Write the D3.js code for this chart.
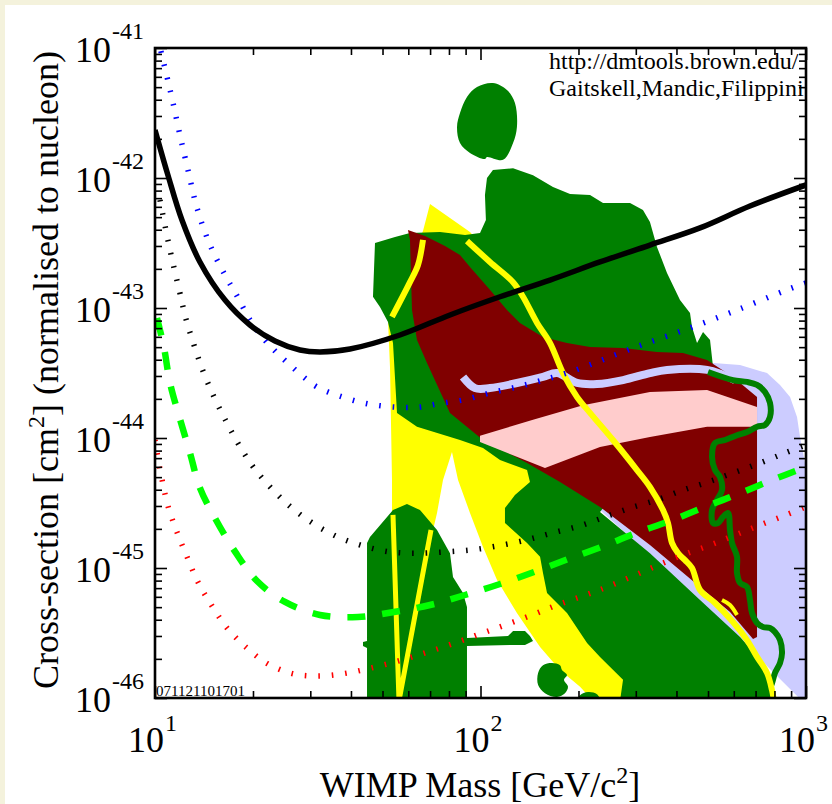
<!DOCTYPE html>
<html>
<head>
<meta charset="utf-8">
<script src="https://cdn.jsdelivr.net/npm/d3@7"></script>
<style>
  html, body { margin: 0; padding: 0; background: #f4f2dc; }
  svg { display: block; }
</style>
</head>
<body>
<svg id="chart" width="832" height="804"></svg>
<script>
// WIMP-nucleon cross-section limits and model regions, [mass GeV/c^2, sigma cm^2]

const cdmsLimit = [[10, 2.34e-42], [10.96, 1.05e-42], [12.1, 4.75e-43], [13.74, 2.26e-43], [16.41, 1.15e-43],
  [19.58, 7.40e-44], [23.37, 5.57e-44], [27.89, 4.75e-44], [32.13, 4.59e-44], [39.73, 4.84e-44],
  [56.57, 6.20e-44], [80.59, 8.84e-44], [114.8, 1.22e-43], [163.5, 1.64e-43], [232.9, 2.26e-43],
  [331.6, 3.05e-43], [472.5, 4.13e-43], [672.9, 6.09e-43], [1000, 8.84e-43]];

const blueProjection = [[10.2, 1.19e-41], [10.89, 5.98e-42], [11.36, 3.78e-42], [11.93, 2.14e-42], [12.63, 1.15e-42],
  [13.46, 5.88e-43], [14.76, 3.05e-43], [16.41, 1.79e-43], [17.86, 1.24e-43], [19.58, 8.09e-44],
  [21.47, 5.88e-44], [23.37, 4.67e-44], [25.98, 3.64e-44], [28.89, 2.89e-44], [31.46, 2.47e-44],
  [37.54, 2.07e-44], [45.12, 1.83e-44], [54.62, 1.73e-44], [65.18, 1.73e-44], [73.52, 1.83e-44],
  [88.37, 1.96e-44], [106.9, 2.22e-44], [129.4, 2.47e-44], [155.6, 2.79e-44], [188.4, 3.22e-44],
  [228.0, 3.84e-44], [268.3, 4.51e-44], [324.7, 5.38e-44], [431.0, 6.89e-44], [613.8, 9.65e-44],
  [874.6, 1.38e-43], [1000, 1.56e-43]];

const blackProjection = [[10.36, 6.77e-43], [11.12, 2.79e-43], [11.93, 1.30e-43], [12.45, 8.23e-44], [13.18, 5.19e-44],
  [14.04, 3.28e-44], [15.18, 2.07e-44], [16.52, 1.35e-44], [18.11, 8.84e-45], [20.14, 5.88e-45],
  [22.88, 4.05e-45], [26.36, 2.89e-45], [30.8, 2.18e-45], [36.49, 1.73e-45], [43.55, 1.48e-45],
  [52.72, 1.33e-45], [63.81, 1.30e-45], [77.8, 1.33e-45], [94.18, 1.38e-45], [113.2, 1.48e-45],
  [138.0, 1.64e-45], [165.9, 1.86e-45], [200.7, 2.10e-45], [241.3, 2.47e-45], [288.0, 2.89e-45],
  [348.5, 3.34e-45], [418.9, 3.98e-45], [500.1, 4.59e-45], [596.7, 5.38e-45], [722.3, 6.42e-45],
  [862.2, 7.67e-45], [1000, 8.84e-45]];

const redProjection = [[10, 9.65e-45], [10.14, 7.80e-45], [10.5, 4.84e-45], [10.96, 3.00e-45], [11.68, 1.89e-45],
  [12.54, 1.22e-45], [13.55, 7.80e-46], [14.97, 5.10e-46], [16.64, 3.46e-46], [19.17, 2.42e-46],
  [22.24, 1.83e-46], [26.73, 1.53e-46], [32.59, 1.48e-46], [39.17, 1.56e-46], [47.41, 1.73e-46],
  [57.38, 1.96e-46], [68.99, 2.26e-46], [83.5, 2.65e-46], [99.65, 3.11e-46], [118.9, 3.64e-46],
  [143.9, 4.35e-46], [171.8, 5.19e-46], [206.5, 6.09e-46], [244.7, 7.14e-46], [294.2, 8.68e-46],
  [351, 1.05e-45], [418.9, 1.26e-45], [507.2, 1.50e-45], [605.2, 1.79e-45], [722.3, 2.14e-45],
  [868.4, 2.56e-45], [1000, 2.95e-45]];

const limeProjection = [[10.14, 8.38e-44], [10.65, 5.01e-44], [11.12, 2.65e-44], [11.93, 1.40e-44], [12.81, 7.67e-45],
  [13.74, 4.13e-45], [15.4, 2.34e-45], [17.64, 1.33e-45], [20.58, 7.94e-46], [25.08, 5.48e-46],
  [32.13, 4.35e-46], [42.05, 4.20e-46], [54.23, 4.59e-46], [69.97, 5.19e-46], [89.64, 6.20e-46],
  [114.8, 7.53e-46], [146, 9.32e-46], [185.7, 1.17e-45], [243, 1.50e-45], [300.5, 1.86e-45],
  [382.1, 2.30e-45], [489.6, 2.95e-45], [618.2, 3.71e-45], [786.2, 4.75e-45], [1000, 5.98e-45]];

const lavenderRegion = [[202.2, 3.98e-45], [232.9, 9.65e-45], [309, 4.13e-44], [472.5, 3.84e-44], [627.0, 3.64e-44],
  [759.0, 3.16e-44], [832.1, 2.56e-44], [893.3, 2.07e-44], [938.5, 1.45e-44], [958.5, 1.02e-44],
  [993.0, 6.42e-45], [1050, 5.67e-45], [1050, 9.5e-47], [972.2, 9.5e-47], [803.1, 1.53e-46],
  [627.0, 2.84e-46], [472.5, 5.48e-46], [331.6, 1.26e-45], [232.9, 2.79e-45]];

const yellowRegion = [[69.97, 6.31e-43], [92.84, 3.84e-43], [132.2, 1.38e-43], [175.5, 3.98e-44], [232.9, 1.15e-44],
  [217.0, 3.98e-45], [288.0, 5.67e-46], [309, 9.5e-47], [221.7, 9.5e-47], [202.2, 1.22e-46],
  [175.5, 1.64e-46], [152.4, 2.47e-46], [129.4, 4.51e-46], [112.4, 8.09e-46], [101.8, 1.45e-45],
  [92.84, 2.65e-45], [85.31, 4.75e-45], [81.73, 7.80e-45], [76.7, 4.75e-45], [73.52, 2.65e-45],
  [71.47, 1.96e-45], [65.18, 5.67e-46], [53.47, 5.67e-46], [53.47, 4.75e-45], [52.72, 3.52e-44],
  [51.98, 8.09e-44], [56.57, 1.64e-43], [66.58, 3.91e-43]];

const greenRegion = [[47.41, 3.16e-43], [54.62, 3.52e-43], [60.72, 3.78e-43], [75.09, 3.84e-43], [89.64, 3.64e-43],
  [99.65, 3.78e-43], [103.9, 4.75e-43], [103.2, 7.40e-43], [104.7, 1.0e-42], [109.2, 1.15e-42],
  [125.9, 1.19e-42], [145.0, 1.05e-42], [167.0, 8.53e-43], [188.4, 7.53e-43], [217.0, 7.40e-43],
  [237.9, 6.42e-43], [288.0, 6.42e-43], [315.6, 5.67e-43], [331.6, 4.59e-43], [348.5, 2.95e-43],
  [374.1, 1.86e-43], [410.1, 1.15e-43], [440.2, 9.15e-44], [446.5, 7.14e-44], [462.6, 5.38e-44],
  [482.7, 6.54e-44], [507.2, 5.67e-44], [518.1, 3.52e-44], [331.6, 8.09e-45], [232.9, 2.70e-45],
  [331.6, 1.30e-45], [472.5, 5.67e-46], [627.0, 2.95e-46], [748.2, 1.79e-46], [808.8, 9.5e-47],
  [268.3, 9.5e-47], [274.1, 1.38e-46], [232.9, 2.07e-46], [212.5, 2.65e-46], [184.4, 4.51e-46],
  [160.1, 6.42e-46], [155.6, 9.15e-46], [152.4, 1.22e-45], [139.0, 1.56e-45], [118.9, 2.22e-45],
  [118.9, 2.89e-45], [127.6, 3.64e-45], [141.9, 4.59e-45], [139.0, 5.67e-45], [114.8, 6.77e-45],
  [101.8, 8.38e-45], [86.5, 9.65e-45], [63.81, 1.22e-44], [55.4, 1.56e-44], [53.85, 5.38e-44],
  [51.98, 7.80e-44], [49.11, 1.02e-43], [46.74, 1.22e-43]];

const greenIsland = [[109.2, 5.38e-42], [120.6, 4.75e-42], [127.6, 3.78e-42], [129.4, 2.47e-42], [125.9, 1.86e-42],
  [117.3, 1.38e-42], [104.7, 1.45e-42], [103.2, 1.40e-42], [92.84, 1.56e-42], [86.5, 1.86e-42],
  [84.7, 2.47e-42], [86.5, 3.16e-42], [90.88, 4.20e-42], [97.55, 5.01e-42]];

const greenLowMass = [[59.44, 3.11e-45], [65.18, 2.79e-45], [73.52, 1.96e-45], [80.59, 1.30e-45], [82.32, 8.53e-46],
  [88.37, 6.42e-46], [90.88, 5.01e-46], [90.88, 2.89e-46], [121.5, 3.00e-46], [125.9, 3.28e-46],
  [137.0, 3.28e-46], [141.9, 3.00e-46], [145.0, 2.74e-46], [137.0, 2.56e-46], [123.2, 2.56e-46],
  [90.88, 2.51e-46], [90.88, 9.5e-47], [44.81, 9.5e-47], [44.81, 2.42e-46], [43.55, 2.51e-46],
  [43.55, 2.70e-46], [44.81, 2.74e-46], [44.81, 1.56e-45], [45.76, 1.73e-45], [53.85, 2.79e-45]];

const greenSpot = [[150.3, 1.56e-46], [155.6, 1.79e-46], [165.9, 1.86e-46], [175.5, 1.79e-46], [178, 1.64e-46],
  [184.4, 1.50e-46], [180.5, 1.38e-46], [185.7, 1.22e-46], [181.8, 1.09e-46], [171.8, 1.02e-46],
  [157.8, 1.09e-46], [150.3, 1.26e-46]];

const greenEdgeSpot = [[197.9, 9.5e-47], [202.2, 1.05e-46], [214, 1.11e-46], [228.0, 1.07e-46], [232.9, 9.5e-47]];

const maroonRegion = [[59.86, 3.98e-43], [67.54, 3.58e-43], [77.8, 3.00e-43], [86.5, 2.56e-43], [92.84, 2.07e-43],
  [106.9, 1.38e-43], [120.6, 9.65e-44], [132.2, 7.67e-44], [155.6, 5.98e-44], [184.4, 5.38e-44],
  [217.0, 5.01e-44], [274.1, 4.92e-44], [348.5, 4.59e-44], [418.9, 4.51e-44], [496.6, 3.98e-44],
  [596.7, 2.95e-44], [707.2, 2.07e-44], [707.2, 2.95e-46], [687.5, 2.84e-46], [584.2, 4.59e-46],
  [472.5, 7.14e-46], [331.6, 1.50e-45], [232.9, 2.95e-45], [175.5, 4.59e-45], [139.0, 6.42e-45],
  [101.8, 9.65e-45], [80.59, 1.56e-44], [68.49, 3.78e-44], [63.81, 5.67e-44], [61.59, 9.65e-44],
  [60.72, 3.34e-43]];

const pinkBand = [[99.65, 1.04e-44], [145.0, 1.38e-44], [206.5, 1.79e-44], [331.6, 2.26e-44], [496.6, 2.34e-44],
  [707.2, 1.73e-44], [707.2, 1.22e-44], [496.6, 1.22e-44], [331.6, 1.02e-44], [232.9, 8.53e-45],
  [157.8, 5.88e-45], [114.8, 8.09e-45], [99.65, 9.32e-45]];

const lavenderCurve = [[88.37, 2.95e-44], [96.2, 2.42e-44], [106.9, 2.42e-44], [129.4, 2.65e-44], [155.6, 2.95e-44],
  [171.8, 3.16e-44], [197.9, 2.65e-44], [228.0, 2.60e-44], [274.1, 2.79e-44], [331.6, 3.16e-44],
  [374.1, 3.34e-44], [496.6, 3.34e-44], [605.2, 2.79e-44]];

const greenContour = [[500.1, 3.22e-44], [596.7, 2.79e-44], [658.9, 2.70e-44], [707.2, 2.56e-44], [748.2, 2.26e-44],
  [775.1, 1.86e-44], [775.1, 1.45e-44], [748.2, 1.26e-44], [707.2, 1.22e-44], [658.9, 1.11e-44],
  [613.8, 1.05e-44], [564.0, 9.65e-45], [525.4, 9.15e-45], [514.4, 7.14e-45], [525.4, 5.67e-45],
  [544.3, 5.01e-45], [552.0, 3.98e-45], [532.9, 3.34e-45], [514.4, 2.79e-45], [518.1, 2.22e-45],
  [536.6, 2.22e-45], [555.9, 2.47e-45], [576.0, 2.65e-45], [584.2, 1.96e-45], [592.5, 1.56e-45],
  [613.8, 1.22e-45], [613.8, 9.15e-46], [627.0, 7.67e-46], [658.9, 7.14e-46], [672.9, 5.67e-46],
  [682.5, 4.51e-46], [707.2, 3.78e-46], [737.9, 3.52e-46], [775.1, 3.46e-46], [803.1, 3.22e-46],
  [832.1, 2.79e-46], [844.0, 2.22e-46], [832.1, 1.86e-46], [803.1, 1.56e-46], [786.2, 1.30e-46],
  [764.2, 1.09e-46], [759.0, 9.5e-47]];

const yellowCurveA = [[66.58, 3.34e-43], [64.27, 2.14e-43], [60.72, 1.58e-43], [53.47, 8.53e-44]];

const yellowCurveB = [[90.88, 3.28e-43], [106.9, 2.26e-43], [125.9, 1.58e-43], [135.1, 1.22e-43], [149.2, 7.67e-44],
  [163.5, 5.38e-44], [179.2, 3.16e-44], [197.9, 2.07e-44], [217.0, 1.56e-44], [255.3, 9.65e-45],
  [302.6, 5.67e-45], [331.6, 4.20e-45], [363.7, 2.79e-45], [376.7, 2.22e-45], [387.5, 1.56e-45],
  [404.4, 1.30e-45], [424.9, 1.15e-45], [446.5, 1.00e-45], [472.5, 6.77e-46], [525.4, 5.38e-46],
  [596.7, 3.84e-46], [658.9, 2.79e-46], [707.2, 2.07e-46], [759.0, 1.56e-46], [786.2, 1.15e-46],
  [797.5, 9.5e-47]];

const yellowCurveV = [[53.85, 2.56e-45], [56.18, 9.5e-47], [70.46, 1.96e-45]];

const yellowCurveD = [[552.0, 5.67e-46], [584.2, 5.19e-46], [613.8, 4.35e-46]];

// axis decades and their exponent labels
const massDecades = [10, 100, 1000];
const massExponents = ["1", "2", "3"];
const sigmaDecades = [1e-41, 1e-42, 1e-43, 1e-44, 1e-45, 1e-46];
const sigmaExponents = ["-41", "-42", "-43", "-44", "-45", "-46"];

const serif = "'Liberation Serif', 'Times New Roman', Times, serif";

const svg = d3.select("#chart");
const plot = { left: 155, top: 48, right: 806, bottom: 698 };

const x = d3.scaleLog().domain([10, 1000]).range([plot.left, plot.right]);
const y = d3.scaleLog().domain([1e-46, 1e-41]).range([plot.bottom, plot.top]);

// white panel
svg.append("rect").attr("x", 5).attr("y", 5).attr("width", 827).attr("height", 799).attr("fill", "#ffffff");

const defs = svg.append("defs");
defs.append("clipPath").attr("id", "plotClip").append("rect")
  .attr("x", plot.left).attr("y", plot.top)
  .attr("width", plot.right - plot.left).attr("height", plot.bottom - plot.top);

const layer = svg.append("g").attr("clip-path", "url(#plotClip)");

const polyGen = d3.line().x(d => x(d[0])).y(d => y(d[1])).curve(d3.curveLinearClosed);
const blobGen = d3.line().x(d => x(d[0])).y(d => y(d[1])).curve(d3.curveCatmullRomClosed.alpha(0.5));
const curveGen = d3.line().x(d => x(d[0])).y(d => y(d[1])).curve(d3.curveCatmullRom.alpha(0.5));
const straightGen = d3.line().x(d => x(d[0])).y(d => y(d[1]));

function area(data, gen, fill) {
  layer.append("path").attr("d", gen(data)).attr("fill", fill).attr("stroke", "none");
}
function stroke(data, gen, color, width, dash) {
  const p = layer.append("path").attr("d", gen(data)).attr("fill", "none")
    .attr("stroke", color).attr("stroke-width", width).attr("stroke-linejoin", "round");
  if (dash) p.attr("stroke-dasharray", dash);
  return p;
}

// filled regions, back to front
area(lavenderRegion, polyGen, "#ccccff");
area(yellowRegion, polyGen, "#ffff00");
area(greenRegion, polyGen, "#008000");
area(greenIsland, blobGen, "#008000");
area(greenLowMass, polyGen, "#008000");
area(greenSpot, blobGen, "#008000");
area(greenEdgeSpot, blobGen, "#008000");
area(maroonRegion, polyGen, "#800000");
area(pinkBand, polyGen, "#ffcccc");

// contour lines
stroke(lavenderCurve, curveGen, "#ccccff", 8);
stroke(greenContour, curveGen, "#008000", 6);
stroke(yellowCurveA, curveGen, "#ffff00", 6);
stroke(yellowCurveB, curveGen, "#ffff00", 6);
stroke(yellowCurveV, straightGen, "#ffff00", 5);
stroke(yellowCurveD, curveGen, "#ffff00", 4);

// projected sensitivities: short marks across the curve
stroke(blueProjection, curveGen, "#0000ff", 5.5, "1.6,11.9");
stroke(blackProjection, curveGen, "#000000", 5.5, "1.6,11.9");
stroke(redProjection, curveGen, "#ff0000", 5.5, "1.6,11.9");
stroke(limeProjection, curveGen, "#00ff00", 6.5, "18,17");

// current limit
stroke(cdmsLimit, curveGen, "#000000", 5.5);

// credit text inside the frame
const credit = svg.append("g").attr("clip-path", "url(#plotClip)")
  .attr("font-family", serif).attr("font-size", 24).attr("fill", "#000");
credit.append("text").attr("x", 549).attr("y", 69).text("http://dmtools.brown.edu/");
credit.append("text").attr("x", 549).attr("y", 96).text("Gaitskell,Mandic,Filippini");

svg.append("text").attr("x", 156).attr("y", 696)
  .attr("font-family", serif).attr("font-size", 15).text("071121101701");

// axes: ticks point into the frame
const isDecade = v => Math.abs(Math.log10(v) - Math.round(Math.log10(v))) < 1e-6;
const minorX = x.ticks().filter(v => !isDecade(v));
const minorY = y.ticks().filter(v => !isDecade(v));

function axisLayer(axisFn, scale, values, size, transform) {
  const g = svg.append("g").attr("transform", transform)
    .call(axisFn(scale).tickValues(values).tickSize(size).tickSizeOuter(0).tickFormat(""));
  g.select(".domain").remove();
  g.selectAll(".tick line").attr("stroke", "#000").attr("stroke-width", 1.6);
}
axisLayer(d3.axisTop, x, massDecades, 12, `translate(0,${plot.bottom})`);
axisLayer(d3.axisTop, x, minorX, 7, `translate(0,${plot.bottom})`);
axisLayer(d3.axisBottom, x, massDecades, 12, `translate(0,${plot.top})`);
axisLayer(d3.axisBottom, x, minorX, 7, `translate(0,${plot.top})`);
axisLayer(d3.axisRight, y, sigmaDecades, 12, `translate(${plot.left},0)`);
axisLayer(d3.axisRight, y, minorY, 7, `translate(${plot.left},0)`);
axisLayer(d3.axisLeft, y, sigmaDecades, 12, `translate(${plot.right},0)`);
axisLayer(d3.axisLeft, y, minorY, 7, `translate(${plot.right},0)`);

svg.append("rect").attr("x", plot.left).attr("y", plot.top)
  .attr("width", plot.right - plot.left).attr("height", plot.bottom - plot.top)
  .attr("fill", "none").attr("stroke", "#000").attr("stroke-width", 2.6);

// tick labels as 10 with a raised exponent
const labels = svg.append("g").attr("font-family", serif).attr("fill", "#000");
massDecades.forEach((v, i) => {
  labels.append("text").attr("x", x(v) - 27).attr("y", plot.bottom + 54)
    .attr("font-size", 36).text("10");
  labels.append("text").attr("x", x(v) + 10).attr("y", plot.bottom + 33)
    .attr("font-size", 24).text(massExponents[i]);
});
sigmaDecades.forEach((v, i) => {
  labels.append("text").attr("x", 111).attr("y", y(v) + 14)
    .attr("font-size", 36).attr("text-anchor", "end").text("10");
  labels.append("text").attr("x", 112).attr("y", y(v) - 9)
    .attr("font-size", 24).text(sigmaExponents[i]);
});

// axis titles
const xt = svg.append("text").attr("x", 480).attr("y", 797).attr("text-anchor", "middle")
  .attr("font-family", serif).attr("font-size", 36);
xt.append("tspan").text("WIMP Mass [GeV/c");
xt.append("tspan").attr("dy", -14).attr("font-size", 24).text("2");
xt.append("tspan").attr("dy", 14).text("]");

const yt = svg.append("text").attr("transform", "translate(58,370) rotate(-90)").attr("text-anchor", "middle")
  .attr("font-family", serif).attr("font-size", 36);
yt.append("tspan").text("Cross-section [cm");
yt.append("tspan").attr("dy", -14).attr("font-size", 24).text("2");
yt.append("tspan").attr("dy", 14).text("] (normalised to nucleon)");
</script>
</body>
</html>
